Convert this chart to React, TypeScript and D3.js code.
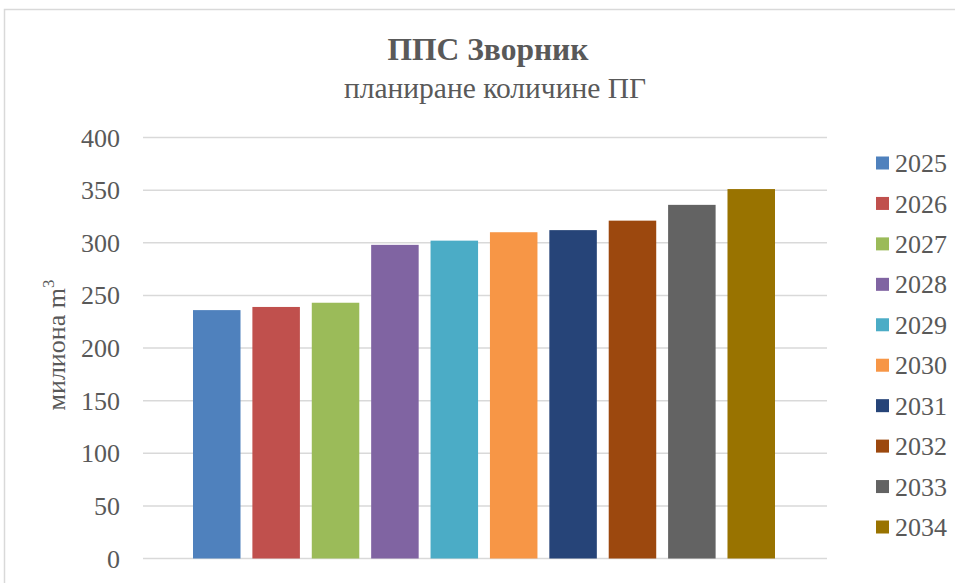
import React from "react";
import * as d3 from "d3";

const years = ["2025", "2026", "2027", "2028", "2029", "2030", "2031", "2032", "2033", "2034"];
const volumes = [236, 239, 243, 298, 302, 310, 312, 321, 336, 351];
const colors = ["#4F81BD", "#C0504D", "#9BBB59", "#8064A2", "#4BACC6", "#F79646", "#264478", "#9C480E", "#636363", "#997300"];
const yTicks = [0, 50, 100, 150, 200, 250, 300, 350, 400];

const W = 955;
const H = 583;
const plot = { left: 143, right: 827, top: 137.5, bottom: 558.5 };
const font = "'Liberation Serif', 'Times New Roman', serif";
const textColor = "#595959";
const gridColor = "#d9d9d9";

export default function App() {
  const y = d3.scaleLinear().domain([0, 400]).range([plot.bottom, plot.top]);
  const x = d3
    .scaleBand<string>()
    .domain(years)
    .range([193, 775])
    .paddingInner(0.2)
    .paddingOuter(0);

  const legendY = d3.scalePoint<string>().domain(years).range([163, 527]);

  return (
    <svg
      width={W}
      height={H}
      style={{ position: "absolute", left: 0, top: 0, background: "#fff", fontFamily: font }}
    >
      <rect x={4.5} y={9.5} width={W + 10} height={H + 10} fill="#fff" stroke={gridColor} strokeWidth={1.5} />

      <text x={488} y={60} textAnchor="middle" fontSize={31.5} fontWeight="bold" fill={textColor}>
        ППС Зворник
      </text>
      <text x={495} y={98} textAnchor="middle" fontSize={29.5} fill={textColor}>
        планиране количине ПГ
      </text>

      {yTicks.map((t) => (
        <g key={t}>
          <line x1={plot.left} x2={plot.right} y1={y(t)} y2={y(t)} stroke={gridColor} strokeWidth={1.5} />
          <text x={120} y={y(t)} dy="0.35em" textAnchor="end" fontSize={26} fill={textColor}>
            {t}
          </text>
        </g>
      ))}

      {years.map((yr, i) => (
        <rect
          key={yr}
          x={x(yr)}
          y={y(volumes[i])}
          width={x.bandwidth()}
          height={y(0) - y(volumes[i])}
          fill={colors[i]}
        />
      ))}

      <text
        transform={`translate(65, 345) rotate(-90)`}
        textAnchor="middle"
        fontSize={26}
        fill={textColor}
      >
        милиона m<tspan dy={-11} fontSize={17}>3</tspan>
      </text>

      {years.map((yr, i) => (
        <g key={yr} transform={`translate(876, ${legendY(yr)})`}>
          <rect x={0} y={-6.5} width={13} height={13} fill={colors[i]} />
          <text x={19} y={0} dy="0.35em" fontSize={26} fill={textColor}>
            {yr}
          </text>
        </g>
      ))}
    </svg>
  );
}
